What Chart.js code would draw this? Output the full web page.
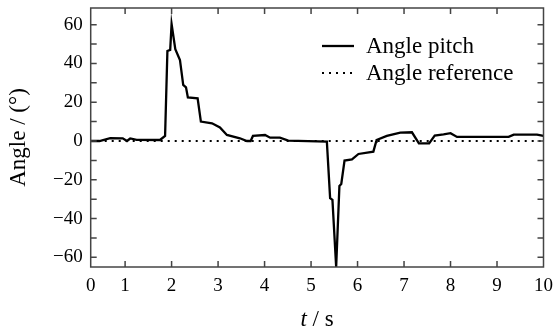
<!DOCTYPE html>
<html>
<head>
<meta charset="utf-8">
<script src="https://cdn.jsdelivr.net/npm/chart.js@4"></script>
<style>
html,body{margin:0;padding:0;background:#fff;}
#wrap{width:553px;height:331px;position:relative;}
</style>
</head>
<body>
<div id="wrap"><canvas id="c" width="553" height="331"></canvas></div>
<script>
// ---- data ----
const pitchT = [0.26,0.45,0.68,0.95,1.04,1.11,1.25,1.75,1.86,1.91,1.97,2.00,2.08,2.18,2.25,2.31,2.35,2.56,2.63,2.87,3.04,3.19,3.47,3.62,3.70,3.75,4.01,4.12,4.33,4.51,5.34,5.41,5.46,5.54,5.61,5.65,5.72,5.88,6.02,6.34,6.40,6.41,6.63,6.92,7.17,7.32,7.54,7.66,7.85,8.00,8.14,9.25,9.36,9.86,10.00];
const pitchV = [0,0,1.5,1.4,0,1.3,0.6,0.5,2.6,46.4,47,60.3,47.3,41.8,28.9,27.7,22.5,22,10,9.1,7.0,3.1,1.4,0,0,2.6,3.1,1.7,1.7,0.2,-0.3,-29.5,-30.4,-65,-23.2,-22.2,-10.1,-9.5,-6.7,-5.5,-0.3,0.5,2.6,4.3,4.5,-1.2,-1.2,2.8,3.4,4.0,2.1,2.1,3.3,3.3,2.6];
const refT = [0.26,10];
const refV = [0,0];
const xTickVals = [0.26,1,2,3,4,5,6,7,8,9,10];
const xTickLabels = ['0','1','2','3','4','5','6','7','8','9','10'];
const yTickVals = [-60,-40,-20,0,20,40,60];
const yMinorVals = [-60,-50,-40,-30,-20,-10,0,10,20,30,40,50,60];
const seriesNames = ['Angle pitch','Angle reference'];
const xTitleItalic = 't';
const xTitleRest = ' / s';
const yTitle = 'Angle / (°)';

const FONT = '"Liberation Serif","Times New Roman",serif';

const framePlugin = {
  id:'frame',
  afterDraw(chart){
    const {ctx, chartArea:a, scales:{x,y}} = chart;
    ctx.save();
    ctx.strokeStyle = '#444';
    ctx.lineWidth = 1.5;
    ctx.strokeRect(a.left, a.top, a.right-a.left, a.bottom-a.top);
    ctx.beginPath();
    const L = 6;
    for (let i=1;i<xTickVals.length-1;i++){
      const px = x.getPixelForValue(xTickVals[i]);
      ctx.moveTo(px, a.bottom); ctx.lineTo(px, a.bottom-L);
      ctx.moveTo(px, a.top); ctx.lineTo(px, a.top+L);
    }
    for (const v of yMinorVals){
      const py = y.getPixelForValue(v);
      ctx.moveTo(a.left, py); ctx.lineTo(a.left+L, py);
      ctx.moveTo(a.right, py); ctx.lineTo(a.right-L, py);
    }
    ctx.stroke();
    // legend
    const ds = chart.data.datasets;
    ctx.fillStyle = '#000';
    ctx.font = '23px ' + FONT;
    ctx.textBaseline = 'middle';
    ctx.textAlign = 'left';
    const rows = [46, 73];
    for (let i=0;i<2;i++){
      ctx.beginPath();
      ctx.strokeStyle = '#000';
      ctx.lineWidth = ds[i].borderWidth;
      ctx.setLineDash(ds[i].borderDash || []);
      ctx.moveTo(322, rows[i]); ctx.lineTo(354, rows[i]);
      ctx.stroke();
      ctx.setLineDash([]);
      ctx.fillText(ds[i].label, 366, rows[i]+1);
    }
    // axis titles
    ctx.textBaseline = 'alphabetic';
    ctx.font = 'italic 23px ' + FONT;
    const w1 = ctx.measureText(xTitleItalic).width;
    ctx.font = '23px ' + FONT;
    const w2 = ctx.measureText(xTitleRest).width;
    const cx = (a.left+a.right)/2;
    let sx = cx - (w1+w2)/2;
    ctx.font = 'italic 23px ' + FONT;
    ctx.fillText(xTitleItalic, sx, 326);
    ctx.font = '23px ' + FONT;
    ctx.fillText(xTitleRest, sx+w1, 326);
    ctx.save();
    ctx.translate(25, (a.top+a.bottom)/2);
    ctx.rotate(-Math.PI/2);
    ctx.textAlign = 'center';
    ctx.fillText(yTitle, 0, 0);
    ctx.restore();
    ctx.restore();
  }
};

new Chart(document.getElementById('c'), {
  type:'line',
  data:{
    datasets:[
      {label:seriesNames[0], data:pitchT.map((t,i)=>({x:t,y:pitchV[i]})), borderColor:'#000', borderWidth:2.3, pointRadius:0, tension:0, fill:false, order:1},
      {label:seriesNames[1], data:refT.map((t,i)=>({x:t,y:refV[i]})), borderColor:'#000', borderWidth:2, borderDash:[2,5], pointRadius:0, tension:0, fill:false, order:2}
    ]
  },
  options:{
    responsive:false,
    animation:false,
    clip:false,
    layout:{padding:{left:0,right:9.5,top:8,bottom:0}},
    plugins:{legend:{display:false}, tooltip:{enabled:false}},
    scales:{
      x:{
        type:'linear', min:0.26, max:10,
        grid:{display:false, drawTicks:false}, border:{display:false},
        afterBuildTicks(s){ s.ticks = xTickVals.map(v=>({value:v})); },
        afterFit(s){ s.height = 64; s.paddingLeft = 0; s.paddingRight = 0; },
        ticks:{font:{family:FONT,size:19}, color:'#000', padding:8, maxRotation:0, autoSkip:false,
          callback(v, i){ return xTickLabels[i]; }}
      },
      y:{
        type:'linear', min:-65, max:68.6,
        grid:{display:false, drawTicks:false}, border:{display:false},
        afterBuildTicks(s){ s.ticks = yTickVals.map(v=>({value:v})); },
        afterFit(s){ s.width = 90.7; s.paddingTop = 0; s.paddingBottom = 0; },
        ticks:{font:{family:FONT,size:19}, color:'#000', padding:8,
          callback(v){ return v < 0 ? '\u2212' + Math.abs(v) : String(v); }}
      }
    }
  },
  plugins:[framePlugin]
});
</script>
</body>
</html>
